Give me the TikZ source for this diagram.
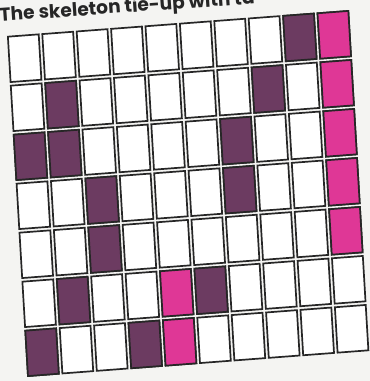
\documentclass[tikz,border=0pt]{standalone}
\usepackage{fontspec}
\setmainfont{Poppins}
\definecolor{paper}{HTML}{F4F4F2}
\definecolor{plum}{HTML}{6C3B61}
\definecolor{magenta}{HTML}{DF3796}
\definecolor{ink}{HTML}{262626}
\tikzset{
  cellbox/.style={draw=ink, line width=1.7pt, fill=white, line join=miter},
  plumcell/.style={cellbox, fill=plum},
  pinkcell/.style={cellbox, fill=magenta},
  titletext/.style={anchor=base west, rotate=4, inner sep=0pt, text=ink, font=\fontsize{18.6}{21}\selectfont\bfseries}
}
\newcommand{\gcell}[3]{%
  \path[#3] (#1+0.052,#2+0.037) -- (#1+0.948,#2+0.037) -- (#1+0.948,#2+0.963) -- (#1+0.052,#2+0.963) -- cycle;}
\begin{document}
\begin{tikzpicture}[x=1pt,y=1pt]
\useasboundingbox (0,0) rectangle (370,381);
\clip (0,0) rectangle (370,381);
\fill[paper] (0,0) rectangle (370,381);
\node[titletext] (title) at (0,359.5) {The skeleton tie-up with ta};
\begin{scope}[shift={(6,346)}, x={(34.4pt,2.6pt)}, y={(2.9pt,-49pt)}]
  \foreach \i in {0,...,9}{
    \foreach \j in {0,...,6}{
      \gcell{\i}{\j}{cellbox}
    }
  }
  % plum cells (column, row), zero-based
  \foreach \c/\r in {8/0, 1/1, 7/1, 0/2, 1/2, 6/2, 2/3, 6/3, 2/4, 1/5, 5/5, 0/6, 3/6}{
    \gcell{\c}{\r}{plumcell}
  }
  % pink cells
  \foreach \c/\r in {9/0, 9/1, 9/2, 9/3, 9/4, 4/5, 4/6}{
    \gcell{\c}{\r}{pinkcell}
  }
\end{scope}
\end{tikzpicture}
\end{document}
